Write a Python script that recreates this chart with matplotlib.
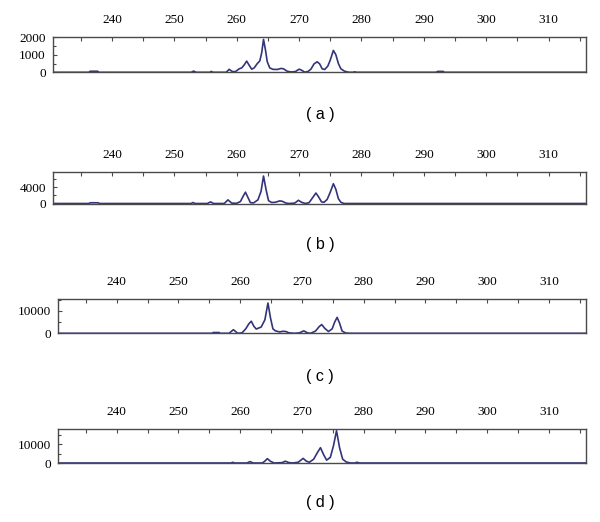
"""Four stacked spectra (a)-(d) sharing the same m/z axis."""

import matplotlib

matplotlib.use("Agg")
import matplotlib.pyplot as plt
from matplotlib.ticker import MultipleLocator

# ---- data (x = m/z, y = intensity) ----
x_a = [230.5, 236.3, 236.5, 237.7, 237.9, 252.7, 253.1, 253.5, 255.7, 255.9, 256.2,
       258.3, 258.8, 259.3, 259.8, 260.4, 260.8, 261.2, 261.6, 262.0, 262.4, 262.8,
       263.3, 263.7, 264.0, 264.3, 264.6, 264.9, 265.3, 265.8, 266.5, 267.1, 267.5,
       268.1, 268.7, 269.4, 270.0, 270.4, 270.9, 271.4, 271.9, 272.4, 272.9, 273.3,
       273.7, 274.1, 274.6, 275.0, 275.5, 275.9, 276.3, 276.7, 277.3, 278.0, 278.7,
       278.9, 279.2, 292.0, 292.2, 293.1, 293.3, 316.0]
y_a = [0, 0, 60, 60, 0, 0, 70, 0, 0, 50, 0,
       0, 170, 40, 40, 200, 250, 420, 640, 400, 180, 250,
       500, 650, 1100, 1880, 1300, 600, 250, 170, 160, 220, 200,
       60, 20, 40, 180, 120, 10, 40, 180, 480, 600, 480,
       200, 160, 350, 700, 1250, 1000, 500, 200, 60, 0, 0,
       30, 0, 0, 50, 50, 0, 0]

x_b = [230.5, 236.3, 236.5, 237.8, 238.0, 252.7, 253.0, 253.3, 255.3, 255.8, 256.3,
       258.0, 258.6, 259.2, 260.0, 260.6, 261.0, 261.4, 261.8, 262.2, 262.7, 263.4,
       263.9, 264.3, 264.7, 265.1, 265.6, 266.2, 266.9, 267.3, 267.9, 268.4, 269.3,
       269.9, 270.4, 271.0, 271.6, 272.2, 272.7, 273.1, 273.6, 274.0, 274.5, 275.0,
       275.5, 275.9, 276.3, 276.7, 277.2, 316.0]
y_b = [0, 0, 180, 180, 0, 0, 250, 0, 0, 400, 0,
       0, 900, 100, 50, 500, 1700, 2800, 1500, 200, 150, 900,
       3000, 6800, 3500, 700, 250, 300, 650, 550, 100, 0, 100,
       800, 300, 0, 200, 1500, 2600, 1700, 400, 300, 1000, 2800,
       4900, 3500, 1200, 300, 0, 0]

x_c = [230.5, 255.5, 255.6, 256.6, 256.7, 258.2, 258.9, 259.6, 260.3, 260.9, 261.4,
       261.8, 262.2, 262.6, 263.4, 264.0, 264.5, 264.9, 265.3, 265.7, 266.4, 266.9,
       267.4, 267.9, 268.8, 269.6, 270.3, 270.9, 271.4, 272.2, 272.8, 273.2, 273.7,
       274.3, 274.9, 275.3, 275.7, 276.1, 276.5, 277.1, 277.8, 316.0]
y_c = [0, 0, 350, 350, 0, 0, 1600, 0, 200, 2000, 4200,
       5400, 3200, 1900, 2800, 6000, 13500, 7000, 2000, 1100, 600, 900,
       800, 200, 0, 200, 1100, 200, 0, 1000, 3000, 3900, 2200,
       800, 2000, 5000, 7100, 4500, 1000, 100, 0, 0]

x_d = [230.5, 258.5, 258.8, 259.1, 261.1, 261.6, 262.1, 263.6, 264.0, 264.4, 264.9,
       265.5, 266.8, 267.3, 267.9, 268.5, 269.4, 270.2, 270.7, 271.2, 271.9, 272.5,
       273.0, 273.5, 274.0, 274.6, 275.1, 275.6, 276.1, 276.6, 277.2, 277.9, 278.6,
       278.9, 279.3, 316.0]
y_d = [0, 0, 350, 0, 0, 750, 0, 0, 1000, 2300, 900,
       0, 200, 950, 200, 0, 400, 2450, 1000, 400, 2000, 5500,
       8100, 4500, 1500, 3000, 9000, 17100, 8000, 2000, 500, 0, 0,
       400, 0, 0]

panel_labels = ["( a )", "( b )", "( c )", "( d )"]
y_limits = [2000, 7800, 15300, 18000]
y_ticks = [[0, 1000, 2000], [0, 4000], [0, 10000], [0, 10000]]
y_minor = [500, 2000, 5000, 5000]

LINE = "#34347a"
FRAME = "#4a4a4a"

# axes boxes in pixels: left, top, right, bottom (figure is 600x522)
boxes = [(52.7, 37.3, 586, 72.3),
         (52.7, 172, 586, 203.5),
         (58, 299, 586, 333.3),
         (58, 429, 586, 463)]
caption_y = [115, 244, 376, 503]

W, H = 600, 522
fig = plt.figure(figsize=(6.0, 5.22), dpi=100)

series = [(x_a, y_a), (x_b, y_b), (x_c, y_c), (x_d, y_d)]
for i, ((xs, ys), box) in enumerate(zip(series, boxes)):
    l, t, r, b = box
    ax = fig.add_axes([l / W, 1 - b / H, (r - l) / W, (b - t) / H])
    ax.plot(xs, ys, color=LINE, linewidth=1.2)
    ax.set_xlim(230.5, 316)
    ax.set_ylim(0, y_limits[i])
    ax.xaxis.set_major_locator(MultipleLocator(10))
    ax.xaxis.set_minor_locator(MultipleLocator(5))
    ax.set_yticks(y_ticks[i])
    ax.yaxis.set_minor_locator(MultipleLocator(y_minor[i]))
    ax.tick_params(axis="x", which="both", top=True, bottom=False,
                   labeltop=True, labelbottom=False, direction="in",
                   length=3, width=0.8, color=FRAME, pad=8)
    ax.tick_params(axis="x", which="minor", length=3)
    ax.tick_params(axis="y", which="both", left=True, right=False,
                   direction="in", length=3, width=0.8, color=FRAME, pad=5)
    ax.tick_params(axis="y", which="minor", length=2)
    for lab in ax.get_xticklabels() + ax.get_yticklabels():
        lab.set_fontfamily("Liberation Serif")
        lab.set_fontsize(9.5)
    for sp in ax.spines.values():
        sp.set_color(FRAME)
        sp.set_linewidth(1.0)

    fig.text(320 / W, 1 - caption_y[i] / H, panel_labels[i],
             ha="center", va="center", fontsize=11.5,
             family="Liberation Sans")

fig.savefig("out.png", dpi=100)
